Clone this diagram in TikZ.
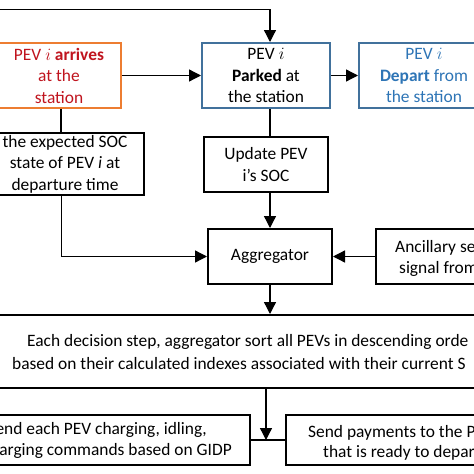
\documentclass[tikz,border=0pt]{standalone}
\usepackage{fontspec}
\setmainfont{Carlito}
\usetikzlibrary{arrows.meta}
\definecolor{orng}{RGB}{237,125,49}
\definecolor{dred}{RGB}{192,20,30}
\definecolor{bbord}{RGB}{65,113,156}
\definecolor{btext}{RGB}{46,117,182}
\begin{document}
\begin{tikzpicture}[x=1pt,y=-1pt,
  font=\fontsize{17.4}{21.5}\selectfont,
  box/.style={draw, line width=2pt, inner sep=0pt, align=center},
  conn/.style={line width=1.3pt},
  arr/.style={conn, -{Triangle[length=12pt,width=12pt]}},
  txt/.style={inner sep=0pt}
]
\useasboundingbox (0,0) rectangle (474,474);
\clip (0,0) rectangle (474,474);
\fill[white] (0,0) rectangle (474,474);

\node[box, draw=orng, text=dred, minimum width=124pt, minimum height=65pt] (arrive) at (59,75.5) {PEV $i$ \textbf{arrives}\\at the\\station};
\node[box, draw=bbord, minimum width=128pt, minimum height=65pt] (park) at (266,75.5) {PEV $i$\\\textbf{Parked} at\\the station};
\node[box, draw=bbord, text=btext, minimum width=130pt, minimum height=65pt] (depart) at (424,75.5) {PEV $i$\\\textbf{Depart} from\\the station};
\node[box, minimum width=158pt, minimum height=62pt] (soc) at (65,164) {the expected SOC\\state of PEV \textit{i} at\\departure time};
\node[box, minimum width=124pt, minimum height=55pt] (upd) at (266,164.5) {Update PEV\\i’s SOC};
\node[box, minimum width=124pt, minimum height=55pt] (agg) at (270,256.5) {Aggregator};
\node[box, minimum width=140pt, minimum height=55pt] (anc) at (446,256.5) {};
\node[txt, anchor=base west] (anct1) at (395,252) {Ancillary se};
\node[txt, anchor=base west] (anct2) at (399,273) {signal from};

\node[draw, line width=2pt, minimum width=490pt, minimum height=73pt, inner sep=0pt] (sort) at (237,351.5) {};
\node[txt, anchor=base west] (sortt1) at (27,346) {Each decision step, aggregator sort all PEVs in descending orde};
\node[txt, anchor=base west] (sortt2) at (12,369) {based on their calculated indexes associated with their current S};

\node[box, minimum width=270pt, minimum height=50pt] (send) at (115,440) {};
\node[txt, anchor=base east] (sendt1) at (207,434) {end each PEV charging, idling,};
\node[txt, anchor=base east] (sendt2) at (232,455) {arging commands based on GIDP};

\node[box, minimum width=200pt, minimum height=50pt] (pay) at (386,440) {};
\node[txt, anchor=base west] (payt1) at (308,437) {Send payments to the P};
\node[txt, anchor=base west] (payt2) at (323,457) {that is ready to depar};

\coordinate (tl) at (0,9.5);
\draw[arr] (tl) -| ([xshift=4pt]park.north);
\draw[arr] (arrive) -- (park);
\draw[arr] (park) -- (depart);
\draw[conn] ([xshift=2pt]arrive.south) -- ([xshift=2pt]arrive.south |- soc.north);
\draw[arr] ([xshift=-3.5pt]soc.south) |- (agg.west);
\draw[conn] ([xshift=4pt]park.south) -- ([xshift=4pt]park.south |- upd.north);
\draw[arr] ([xshift=4pt]upd.south) -- (agg.north);
\draw[arr] (anc.west) -- (agg.east);
\draw[arr] (agg.south) -- (agg.south |- sort.north);
\draw[conn] (send.east) -- (pay.west);
\draw[arr] ([xshift=29pt]sort.south) -- ([xshift=29pt]sort.south |- send.east);
\end{tikzpicture}
\end{document}
